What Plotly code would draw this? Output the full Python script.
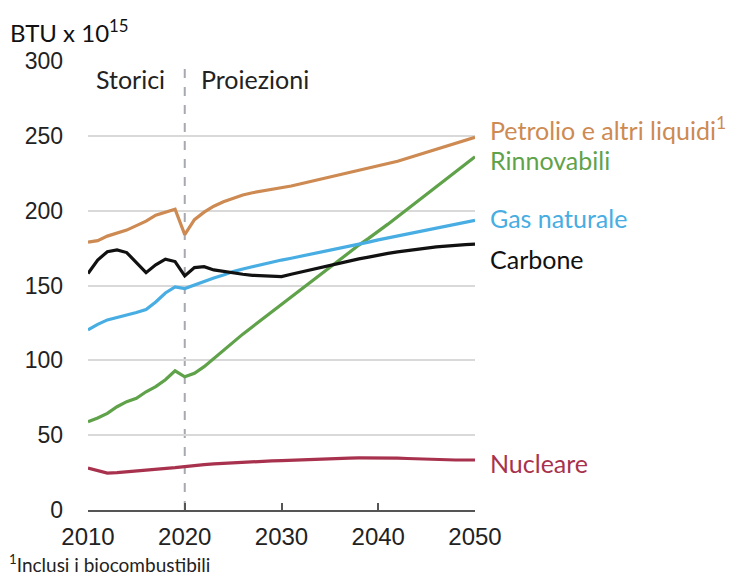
import plotly.graph_objects as go

years = list(range(2010, 2051))

petrolio = [179, 180, 183, 185, 187, 190, 193, 197, 199, 201,
            184, 194, 199, 203, 206, 208.5, 210.5, 212, 213, 214,
            215, 216.5, 218, 219.5, 221, 222, 223.5, 225, 226.5, 228,
            230, 231.5, 233, 235, 237, 239, 241, 243, 245, 247, 249]
carbone = [158, 167, 172.6, 173.8, 172, 165, 158.6, 163.8, 167.6, 166,
           156.4, 162, 162.6, 160.4, 159.3, 158.4, 157.5, 156.8, 156.4, 156.2,
           156, 157.5, 159, 160.5, 162, 163.8, 165, 166.5, 167.8, 169,
           170.5, 171.5, 172.5, 173.5, 174.3, 175, 175.8, 176.4, 176.9, 177.3, 177.6]
gas = [120.3, 124, 127, 128.5, 130, 132, 134, 139, 145, 149,
       148, 150.4, 152.6, 155, 157, 159.3, 161, 162.6, 164.2, 165.6,
       167, 168.2, 169.5, 170.8, 172, 173.3, 174.6, 176, 177.5, 179,
       180.5, 181.8, 183.1, 184.4, 185.7, 187, 188.3, 189.6, 190.9, 192.2, 193.5]
rinnovabili = [59, 61.5, 64.6, 69, 72.4, 74.6, 79, 82.4, 87, 93,
               89, 91.4, 95.8, 101.4, 107, 112.5, 117.5, 122.5, 127.5, 132.5,
               137.5, 142.5, 147.5, 152.5, 157.5, 162.5, 167.5, 172.5, 177, 181.5,
               186, 191, 196, 201, 206, 211, 216, 221, 226, 231, 236]
nucleare = [28, 26.5, 24.7, 25, 25.5, 26, 26.3, 26.8, 27.3, 28.3,
            29, 29.8, 30.3, 30.8, 31.2, 31.6, 31.9, 32.2, 32.5, 32.8,
            33, 33.3, 33.6, 33.9, 34.2, 34.5, 34.6, 34.7, 34.8, 34.9,
            35, 34.9, 34.7, 34.4, 34.1, 33.8, 33.6, 33.5, 33.4, 33.4, 33.4]

series_names = ["Petrolio e altri liquidi<sup>1</sup>", "Rinnovabili", "Gas naturale",
                "Carbone", "Nucleare"]
series_values = [petrolio, rinnovabili, gas, carbone, nucleare]
series_colors = ["#cd8a52", "#5fa24a", "#47ade2", "#111111", "#a8324e"]
label_y = [255, 234, 195, 168, 31.5]

x_ticks = [2010, 2020, 2030, 2040, 2050]
y_ticks = [0, 50, 100, 150, 200, 250, 300]

W, H = 736, 580
M = dict(l=88, r=261, t=61, b=70)
plot_w = W - M["l"] - M["r"]
plot_h = H - M["t"] - M["b"]


def paper_x(px):
    return (px - M["l"]) / plot_w


def paper_y(py):
    return (H - M["b"] - py) / plot_h


fig = go.Figure()
for name, vals, col in zip(series_names, series_values, series_colors):
    fig.add_trace(go.Scatter(x=years, y=vals, mode="lines", name=name,
                             line=dict(color=col, width=3.2),
                             hoverinfo="skip", showlegend=False))

# boundary between history and projections
fig.add_shape(type="line", xref="x", yref="y", x0=2020, x1=2020, y0=0, y1=300,
              line=dict(color="#a8a8b0", width=2, dash="dash"), layer="below")

annotations = []
for name, ly, col in zip(series_names, label_y, series_colors):
    annotations.append(dict(x=2050, y=ly, xref="x", yref="y", text=name,
                            showarrow=False, xanchor="left", xshift=13,
                            font=dict(family="Lato", size=25, color=col)))

annotations += [
    dict(x=2014.4, y=288, xref="x", yref="y", text="Storici", showarrow=False,
         xanchor="center", font=dict(family="Lato", size=25, color="#222222")),
    dict(x=2027.3, y=288, xref="x", yref="y", text="Proiezioni", showarrow=False,
         xanchor="center", font=dict(family="Lato", size=25, color="#222222")),
    dict(x=paper_x(8), y=paper_y(31), xref="paper", yref="paper",
         text="BTU x 10<sup>15</sup>", showarrow=False, xanchor="left", yanchor="middle",
         font=dict(family="Lato", size=24, color="#111111")),
    dict(x=paper_x(7), y=paper_y(578), xref="paper", yref="paper",
         text="<sup>1</sup>Inclusi i biocombustibili", showarrow=False,
         xanchor="left", yanchor="bottom",
         font=dict(family="Lato", size=19, color="#222222")),
]

fig.update_layout(
    width=W, height=H,
    margin=M,
    paper_bgcolor="white", plot_bgcolor="white",
    annotations=annotations,
    xaxis=dict(range=[2010, 2050], tickvals=x_ticks, ticktext=[str(t) for t in x_ticks],
               showgrid=False, zeroline=False, showline=True, linecolor="#555555",
               linewidth=2, ticks="inside", ticklen=7, tickwidth=2, tickcolor="#555555",
               ticklabelstandoff=4,
               tickfont=dict(family="Liberation Sans", size=24, color="#222222"),
               fixedrange=True),
    yaxis=dict(range=[0, 300], tickvals=y_ticks, showgrid=True, gridcolor="#d9d9d9",
               gridwidth=1.5, zeroline=False, showline=False, ticks="",
               ticklabelstandoff=24,
               tickfont=dict(family="Liberation Sans", size=23, color="#222222"),
               fixedrange=True),
)

fig.write_html("out.html")
